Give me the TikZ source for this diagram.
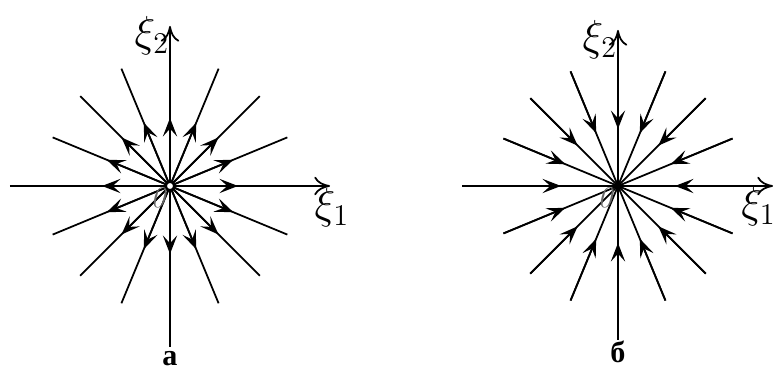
\documentclass[tikz,border=0pt]{standalone}
\usepackage{fontspec}
\newfontfamily\capfont{Liberation Serif}
\usetikzlibrary{arrows.meta,calc}
\tikzset{
  %% phase lines
  ray/.style={line width=0.7pt, black},
  %% axes with end arrow
  axisline/.style={line width=0.7pt, -{To[length=2.2mm,width=2.6mm]}},
  %% flow direction marks
  flow/.style={line width=0.7pt, -{Stealth[length=2.6mm,width=2mm,inset=1.1mm]}},
  %% labels
  axlabel/.style={inner sep=1pt, font=\LARGE},
  caplabel/.style={inner sep=0pt, font=\capfont\bfseries\large},
  zerolabel/.style={inner sep=0pt, text=black!60, font=\large\itshape},
}
\begin{document}
\begin{tikzpicture}[x=0.014cm,y=0.014cm]
  \useasboundingbox (0,0) rectangle (779,372);

  %% a: unstable node
  \coordinate (Oa) at (170,186);
  \draw[axisline] ($(Oa)+(-160,0)$) -- ($(Oa)+(160,0)$) coordinate (xa);
  \draw[axisline] ($(Oa)+(0,-161)$) -- ($(Oa)+(0,160)$) coordinate (ya);
  \foreach \a in {0,90,180,270}
    \draw[flow] (Oa) -- ($(Oa)+(\a:68)$);
  \foreach \a [count=\i] in {22.5,45,67.5,112.5,135,157.5,202.5,225,247.5,292.5,315,337.5} {
    \coordinate (A\i) at ($(Oa)+(\a:127)$);
    \draw[ray] (Oa) -- (A\i);
    \draw[flow] (Oa) -- ($(Oa)!0.54!(A\i)$);
  }
  \draw[line width=0.7pt, fill=white] (Oa) circle (4);
  \node[axlabel] (xia1) at ($(xa)+(2,-22)$) {$\xi_1$};
  \node[axlabel] (xia2) at ($(ya)+(-18,-10)$) {$\xi_2$};
  \node[zerolabel] (za) at ($(Oa)+(-12,-12)$) {0};
  \node[caplabel, anchor=base] (capa) at (170,6) {а};

  %% b: stable node
  \coordinate (Ob) at (618,186);
  \draw[axisline] ($(Ob)+(-156,0)$) -- ($(Ob)+(155,0)$) coordinate (xb);
  \draw[axisline] ($(Ob)+(0,-154)$) -- ($(Ob)+(0,156)$) coordinate (yb);
  \foreach \a in {0,90,180,270}
    \draw[flow] ($(Ob)+(\a:120)$) -- ($(Ob)+(\a:57)$);
  \foreach \a [count=\i] in {22.5,45,67.5,112.5,135,157.5,202.5,225,247.5,292.5,315,337.5} {
    \coordinate (B\i) at ($(Ob)+(\a:124)$);
    \draw[ray] (Ob) -- (B\i);
    \draw[flow] (B\i) -- ($(Ob)!0.46!(B\i)$);
  }
  \fill (Ob) circle (3.5);
  \node[axlabel, anchor=east] (xib1) at (779,165) {$\xi_1$};
  \node[axlabel] (xib2) at ($(yb)+(-18,-10)$) {$\xi_2$};
  \node[zerolabel] (zb) at ($(Ob)+(-13,-12)$) {0};
  \node[caplabel, anchor=base] (capb) at (618,9) {б};
\end{tikzpicture}
\end{document}
